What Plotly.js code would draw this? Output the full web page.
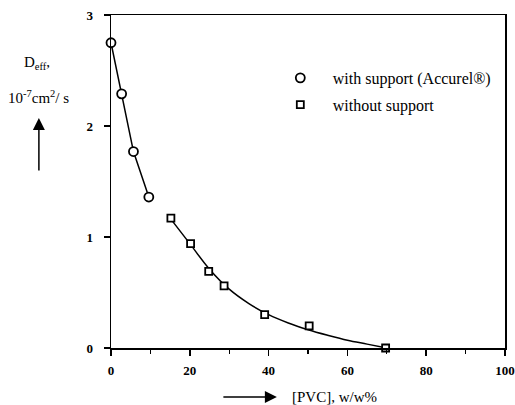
<!DOCTYPE html>
<html>
<head>
<meta charset="utf-8">
<script src="https://cdn.plot.ly/plotly-3.0.1.min.js"></script>
<style>html,body{margin:0;padding:0;background:#fff;}#chart{width:515px;height:405px;}</style>
</head>
<body>
<div id="chart"></div>
<script>
// Data
const supportPVC = [0, 2.7, 5.7, 9.6];
const supportDeff = [2.75, 2.29, 1.77, 1.36];

const noSupportPVC = [15.2, 20.2, 24.8, 28.7, 39.0, 50.3, 69.7];
const noSupportDeff = [1.17, 0.94, 0.69, 0.56, 0.30, 0.20, 0.0];

// Fitted curve for the unsupported membranes
const fitPVC = [15, 20, 25, 30, 35, 40, 45, 50, 55, 60, 65, 70];
const fitDeff = [1.17, 0.94, 0.71, 0.53, 0.40, 0.30, 0.225, 0.165, 0.115, 0.07, 0.035, 0.0];

const xTicks = [0, 20, 40, 60, 80, 100];
const yTicks = [0, 1, 2, 3];
const seriesNames = ['with support (Accurel®)', 'without support'];

const serif = 'Liberation Serif, Times New Roman, serif';

const traces = [
  {x: supportPVC, y: supportDeff, mode: 'lines', line: {color: '#000', width: 1.5},
   showlegend: false, hoverinfo: 'skip', cliponaxis: false},
  {x: fitPVC, y: fitDeff, mode: 'lines', line: {color: '#000', width: 1.5, shape: 'spline'},
   showlegend: false, hoverinfo: 'skip', cliponaxis: false},
  {x: supportPVC, y: supportDeff, mode: 'markers', name: seriesNames[0], legendgroup: 'a',
   marker: {symbol: 'circle', size: 9, color: '#fff', line: {color: '#000', width: 1.8}},
   cliponaxis: false},
  {x: noSupportPVC, y: noSupportDeff, mode: 'markers', name: seriesNames[1], legendgroup: 'b',
   marker: {symbol: 'square', size: 7, color: '#fff', line: {color: '#000', width: 1.8}},
   cliponaxis: false}
];

const layout = {
  width: 515, height: 405,
  margin: {l: 111, r: 10, t: 15, b: 57},
  paper_bgcolor: '#fff', plot_bgcolor: '#fff',
  font: {family: serif, size: 13, color: '#000'},
  showlegend: true,
  legend: {x: 0.398, y: 0.862, xanchor: 'left', yanchor: 'top', bgcolor: 'rgba(0,0,0,0)',
           font: {family: serif, size: 16, color: '#000'}, tracegroupgap: 3, itemwidth: 55},
  xaxis: {range: [0, 100], tickvals: xTicks, ticktext: xTicks.map(String),
          showline: true, linecolor: '#000', linewidth: 1.5, mirror: true,
          ticks: 'outside', ticklen: 6, tickwidth: 1.5, tickcolor: '#000',
          minor: {dtick: 10, ticks: 'outside', ticklen: 4, tickwidth: 1.2, tickcolor: '#000'},
          showgrid: false, zeroline: false, ticklabelstandoff: 4,
          tickfont: {family: serif, size: 13, color: '#000', weight: 'bold'}},
  yaxis: {range: [0, 3], tickvals: yTicks, ticktext: yTicks.map(String),
          showline: true, linecolor: '#000', linewidth: 1.5, mirror: true,
          ticks: 'outside', ticklen: 6, tickwidth: 1.5, tickcolor: '#000',
          showgrid: false, zeroline: false, ticklabelstandoff: 8,
          tickfont: {family: serif, size: 13, color: '#000', weight: 'bold'}},
  annotations: [
    {xref: 'paper', yref: 'paper', x: -0.188, y: 0.856, xanchor: 'center', yanchor: 'middle',
     text: 'D<sub>eff</sub>,', showarrow: false, font: {family: serif, size: 15, color: '#000'}},
    {xref: 'paper', yref: 'paper', x: -0.185, y: 0.754, xanchor: 'center', yanchor: 'middle',
     text: '10<sup>-7</sup>cm<sup>2</sup>/ s', showarrow: false, font: {family: serif, size: 15, color: '#000'}},
    {xref: 'paper', yref: 'paper', x: -0.183, y: 0.691, text: '', showarrow: true,
     ax: 0, ay: 54, arrowhead: 2, arrowsize: 1.6, arrowwidth: 1.5, arrowcolor: '#000'},
    {xref: 'paper', yref: 'paper', x: 0.421, y: -0.147, text: '', showarrow: true,
     ax: -55, ay: 0, arrowhead: 2, arrowsize: 1.6, arrowwidth: 1.5, arrowcolor: '#000'},
    {xref: 'paper', yref: 'paper', x: 0.454, y: -0.147, xanchor: 'left', yanchor: 'middle',
     text: '[PVC], w/w%', showarrow: false, font: {family: serif, size: 15, color: '#000'}}
  ]
};

Plotly.newPlot('chart', traces, layout, {displayModeBar: false, staticPlot: true});
</script>
</body>
</html>
